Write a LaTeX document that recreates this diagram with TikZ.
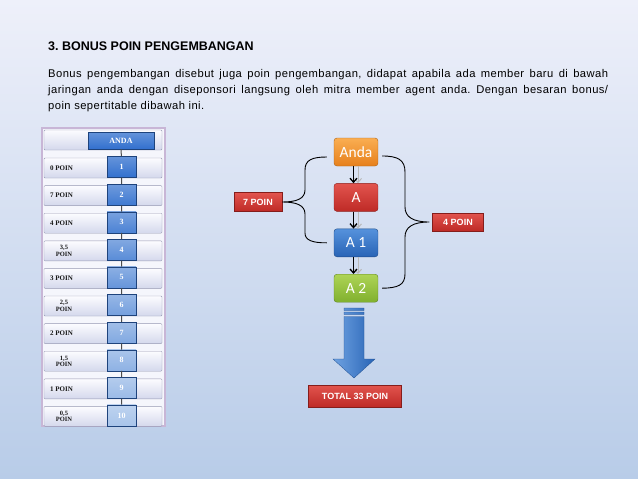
\documentclass[tikz,border=0pt]{standalone}
\usepackage{fontspec}
\setmainfont{Liberation Sans}
\newfontfamily\tabfont{Liberation Serif}
\newfontfamily\boxfont{Carlito}
\usetikzlibrary{positioning,arrows.meta}
\frenchspacing

\definecolor{bgtop}{RGB}{238,240,250}
\definecolor{bgbot}{RGB}{184,204,232}
\definecolor{numdark}{RGB}{50,112,206}
\definecolor{numlight}{RGB}{168,196,234}
\definecolor{rowtop}{RGB}{252,252,255}
\definecolor{rowbot}{RGB}{212,216,236}
\definecolor{rowline}{RGB}{150,152,178}
\definecolor{framecol}{RGB}{200,182,214}
\definecolor{andatop}{RGB}{250,174,82}
\definecolor{andabot}{RGB}{230,128,28}
\definecolor{redtop}{RGB}{226,84,78}
\definecolor{redbot}{RGB}{190,42,38}
\definecolor{bluetop}{RGB}{86,146,220}
\definecolor{bluebot}{RGB}{40,100,182}
\definecolor{greentop}{RGB}{174,212,86}
\definecolor{greenbot}{RGB}{128,176,46}

\begin{document}
\begin{tikzpicture}[
    x=1pt, y=-1pt,
    % Style for the rows of the table
    rowbox/.style={draw=rowline, top color=rowtop, bottom color=rowbot,
        minimum width=118pt, minimum height=20pt, inner sep=0pt, rounded corners=1pt},
    % Style for the point labels (one or two lines)
    rowlbl/.style={anchor=west, align=center, inner sep=0pt, text=black!90,
        font=\tabfont\bfseries\fontsize{7}{7}\selectfont},
    rowlbltwo/.style={align=center, inner sep=0pt, text=black!90,
        font=\tabfont\bfseries\fontsize{6.5}{6.5}\selectfont},
    % Style for the numbered boxes (#1 = share of dark blue)
    numbox/.style={draw=numdark!60!black, top color=numdark!#1!numlight!75!white,
        bottom color=numdark!#1!numlight, minimum width=29pt, minimum height=21pt,
        inner sep=0pt, text=white, font=\tabfont\bfseries\fontsize{8}{8}\selectfont},
    % Style for the coloured boxes of the network
    pill/.style={rounded corners=3pt, minimum width=44pt, minimum height=28pt,
        inner sep=0pt, text=white, font=\boxfont\fontsize{15.5}{16}\selectfont,
        top color=#1top, bottom color=#1bot, draw=#1bot!75!black},
    % Style for the red point tags
    tag/.style={top color=redtop, bottom color=redbot, draw=redbot!70!black,
        text=white, inner sep=0pt, font=\bfseries\fontsize{9}{9}\selectfont},
    % Style for the small arrows and the braces
    flowarr/.style={-{Straight Barb[length=4pt,width=7pt]}, line width=1.3pt},
    shadowarr/.style={flowarr, draw=gray!55, line width=1pt},
    bracel/.style={line width=0.9pt}
]

% --- BACKGROUND ---
\shade[top color=bgtop, bottom color=bgbot] (0,0) rectangle (638,479);
\useasboundingbox (0,0) rectangle (638,479);

% --- TITLE AND TEXT ---
\node[anchor=base west, inner sep=0pt, font=\bfseries\fontsize{12.5}{14}\selectfont]
    (title) at (48,50) {3. BONUS POIN PENGEMBANGAN};
\node[anchor=north west, inner sep=0pt, text width=560pt, align=justify,
    font=\addfontfeatures{LetterSpace=4}\fontsize{11.2}{16}\selectfont]
    (intro) at (48,69) {Bonus pengembangan disebut juga poin pengembangan, didapat apabila ada member baru di bawah\linebreak
    jaringan anda dengan diseponsori langsung oleh mitra member agent anda. Dengan besaran bonus/\linebreak
    poin sepertitable dibawah ini.};

% --- TABLE ---
\draw[framecol, line width=1.2pt, fill=white!40!bgtop] (42,128) rectangle (165,426);
\node[rowbox] (r0) at (103,140) {};
\node[numbox=100, minimum width=66pt, minimum height=17pt] (andabox) at (121,140.5) {ANDA};
% rows 1 to 10
\node[rowbox] (r1) at (103,168) {};    \node[rowlbl] at (50,168) {0 POIN};
\node[rowbox] (r2) at (103,195.6) {};  \node[rowlbl] at (50,195.6) {7 POIN};
\node[rowbox] (r3) at (103,223.2) {};  \node[rowlbl] at (50,223.2) {4 POIN};
\node[rowbox] (r4) at (103,250.8) {};  \node[rowlbltwo] at (64,250.8) {3,5\\POIN};
\node[rowbox] (r5) at (103,278.4) {};  \node[rowlbl] at (50,278.4) {3 POIN};
\node[rowbox] (r6) at (103,306) {};    \node[rowlbltwo] at (64,306) {2,5\\POIN};
\node[rowbox] (r7) at (103,333.6) {};  \node[rowlbl] at (50,333.6) {2 POIN};
\node[rowbox] (r8) at (103,361.2) {};  \node[rowlbltwo] at (64,361.2) {1,5\\POIN};
\node[rowbox] (r9) at (103,388.8) {};  \node[rowlbl] at (50,388.8) {1 POIN};
\node[rowbox] (r10) at (103,416.4) {}; \node[rowlbltwo] at (64,416.4) {0,5\\POIN};
% numbered boxes
\node[numbox=100] (n1) at (121.5,167) {1};
\node[numbox=89] (n2) at (121.5,194.6) {2};
\node[numbox=78] (n3) at (121.5,222.2) {3};
\node[numbox=67] (n4) at (121.5,249.8) {4};
\node[numbox=56] (n5) at (121.5,277.4) {5};
\node[numbox=44] (n6) at (121.5,305) {6};
\node[numbox=33] (n7) at (121.5,332.6) {7};
\node[numbox=22] (n8) at (121.5,360.2) {8};
\node[numbox=11] (n9) at (121.5,387.8) {9};
\node[numbox=0] (n10) at (121.5,415.4) {10};
\draw[black!70, line width=1pt] (andabox) -- (n1) -- (n2) -- (n3) -- (n4) -- (n5)
    -- (n6) -- (n7) -- (n8) -- (n9) -- (n10);

% --- NETWORK ---
\node[pill=anda] (anda) at (356,152) {Anda};
\node[pill=red, below=17pt of anda] (a) {A};
\node[pill=blue, below=17pt of a] (a1) {A 1};
\node[pill=green, below=17pt of a1] (a2) {A 2};

% small arrows (grey shadow first)
\draw[shadowarr] ([xshift=2pt]anda.south) -- ([xshift=2pt]a.north);
\draw[flowarr] ([xshift=-2.5pt]anda.south) -- ([xshift=-2.5pt]a.north);
\draw[shadowarr] ([xshift=2pt]a.south) -- ([xshift=2pt]a1.north);
\draw[flowarr] ([xshift=-2.5pt]a.south) -- ([xshift=-2.5pt]a1.north);
\draw[shadowarr] ([xshift=2pt]a1.south) -- ([xshift=2pt]a2.north);
\draw[flowarr] ([xshift=-2.5pt]a1.south) -- ([xshift=-2.5pt]a2.north);

% tags
\node[tag, minimum width=48pt, minimum height=19pt] (t7) at (258,202) {7 POIN};
\node[tag, minimum width=51pt, minimum height=18pt] (t4) at (458,222) {4 POIN};
\node[tag, minimum width=93pt, minimum height=22pt] (total) at (355,396) {TOTAL 33 POIN};

% braces
\coordinate (lbtop) at ([shift={(-7,5)}]anda.west);
\coordinate (lbbot) at ([shift={(-7,0)}]a1.west);
\draw[bracel] (lbtop) .. controls (312,157) and (305,160) .. (305,170) -- (305,190)
    .. controls (305,199) and (296,202) .. (t7.east)
    .. controls (296,202) and (305,205) .. (305,214) -- (305,233)
    .. controls (305,240) and (312,243) .. (lbbot);
\coordinate (rbtop) at ([shift={(4,4)}]anda.east);
\coordinate (rbbot) at ([shift={(4,0)}]a2.east);
\draw[bracel] (rbtop) .. controls (398,156) and (405,160) .. (405,172) -- (405,207)
    .. controls (405,217) and (413,222) .. ([xshift=-3pt]t4.west)
    .. controls (413,222) and (405,227) .. (405,237) -- (405,274)
    .. controls (405,285) and (398,288) .. (rbbot);

% --- BIG ARROW TO TOTAL ---
\shade[left color=bluetop!85!white, right color=bluebot, draw=bluebot!80!black, line width=0.3pt]
    (344,308) rectangle (364,310.5)
    (344,312) rectangle (364,314.5)
    (344,316.5) -- (364,316.5) -- (364,359) -- (375,359) -- (354,378) -- (333,359) -- (344,359) -- cycle;

\end{tikzpicture}
\end{document}
